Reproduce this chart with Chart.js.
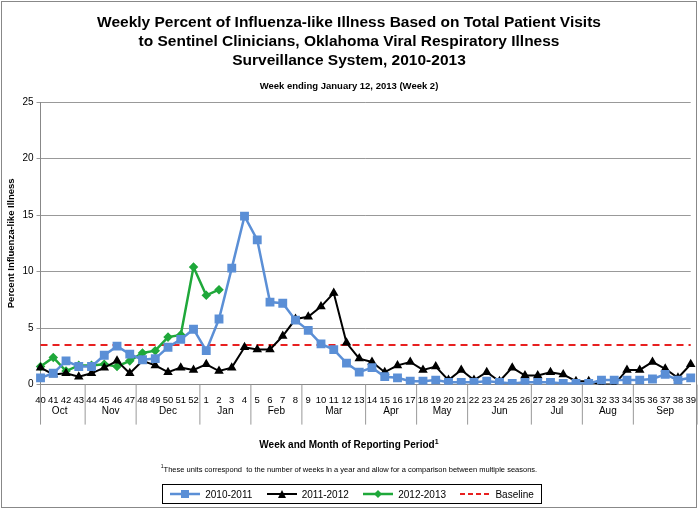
<!DOCTYPE html>
<html><head><meta charset="utf-8">
<script src="https://cdn.jsdelivr.net/npm/chart.js@4.4.0/dist/chart.umd.min.js"></script>
<style>
body{margin:0;background:#fff;font-family:Arial,"Liberation Sans",sans-serif}
#wrap{position:absolute;left:1px;top:1px;width:696px;height:507px;border:1px solid #888;box-sizing:border-box}
#c{position:absolute;left:0;top:0}
.t{position:absolute;width:100%;text-align:center;color:#000}
#legend{position:absolute;left:160px;top:482px;width:378px;height:18px;border:1px solid #000;font-size:10px;display:flex;align-items:center;justify-content:space-around}
#legend span{display:inline-flex;align-items:center;gap:5px}
</style></head><body>
<div id="wrap">
<canvas id="c" width="696" height="507"></canvas>
<div class="t" style="top:10px;font-weight:bold;font-size:15.5px;line-height:19px">Weekly Percent of Influenza-like Illness Based on Total Patient Visits<br>to Sentinel Clinicians, Oklahoma Viral Respiratory Illness<br>Surveillance System, 2010-2013</div>
<div class="t" style="top:78px;font-weight:bold;font-size:9.5px">Week ending January 12, 2013 (Week 2)</div>
<div class="t" style="top:436px;font-weight:bold;font-size:10px">Week and Month of Reporting Period<sup style="font-size:7px">1</sup></div>
<div class="t" style="top:461px;font-size:7.5px"><sup style="font-size:5px">1</sup>These units correspond&nbsp; to the number of weeks in a year and allow for a comparison between multiple seasons.</div>
<div id="legend">
<span><svg width="30" height="10"><line x1="0" y1="5" x2="30" y2="5" stroke="#5B8FD6" stroke-width="2.5"/><rect x="11" y="1" width="8" height="8" fill="#5B8FD6"/></svg>2010-2011</span>
<span><svg width="30" height="10"><line x1="0" y1="5" x2="30" y2="5" stroke="#000" stroke-width="2"/><polygon points="15,1 19,9 11,9" fill="#000"/></svg>2011-2012</span>
<span><svg width="30" height="10"><line x1="0" y1="5" x2="30" y2="5" stroke="#1FA83A" stroke-width="2.5"/><polygon points="15,1 19,5 15,9 11,5" fill="#1FA83A"/></svg>2012-2013</span>
<span><svg width="30" height="10"><line x1="0" y1="5" x2="30" y2="5" stroke="#E82020" stroke-width="2" stroke-dasharray="5,3"/></svg>Baseline</span>
</div>
</div>
<script>
const weeks=[40,41,42,43,44,45,46,47,48,49,50,51,52,1,2,3,4,5,6,7,8,9,10,11,12,13,14,15,16,17,18,19,20,21,22,23,24,25,26,27,28,29,30,31,32,33,34,35,36,37,38,39].map(String);
const s2010=[0.6,1.0,2.1,1.6,1.6,2.6,3.4,2.7,2.2,2.3,3.3,4.0,4.9,3.0,5.8,10.3,14.9,12.8,7.3,7.2,5.7,4.8,3.6,3.1,1.9,1.1,1.5,0.7,0.6,0.3,0.3,0.4,0.2,0.2,0.2,0.3,0.2,0.1,0.2,0.2,0.2,0.1,0.1,0.1,0.4,0.4,0.4,0.4,0.5,0.9,0.4,0.6];
const s2011=[1.5,0.9,1.0,0.7,1.0,1.5,2.1,1.0,2.1,1.7,1.1,1.5,1.3,1.8,1.2,1.5,3.3,3.1,3.1,4.3,5.8,6.0,6.9,8.1,3.7,2.3,2.0,1.1,1.7,2.0,1.3,1.6,0.4,1.3,0.4,1.1,0.3,1.5,0.8,0.8,1.1,0.9,0.3,0.3,0.0,0.0,1.3,1.3,2.0,1.4,0.6,1.8];
const s2012=[1.6,2.4,1.2,1.7,1.7,1.8,1.6,2.1,2.8,3.0,4.2,4.4,10.4,7.9,8.4];
const baseline=weeks.map(()=>3.5);
const months=[["Oct",0,3],["Nov",4,7],["Dec",8,12],["Jan",13,16],["Feb",17,20],["Mar",21,25],["Apr",26,29],["May",30,33],["Jun",34,38],["Jul",39,42],["Aug",43,46],["Sep",47,51]];
const monthPlugin={id:'m',afterDraw(ch){const c=ch.ctx,x=ch.scales.x,a=ch.chartArea;const w=x.getPixelForValue(1)-x.getPixelForValue(0);
c.save();c.strokeStyle='#999';c.lineWidth=1;c.fillStyle='#000';c.font='10px Arial';c.textAlign='center';
const y0=a.bottom,y1=a.bottom+40;
c.beginPath();c.moveTo(a.left,y0);c.lineTo(a.left,y1);c.stroke();
months.forEach(([n,s,e])=>{const l=x.getPixelForValue(s)-w/2,r=x.getPixelForValue(e)+w/2;
c.beginPath();c.moveTo(r,y0);c.lineTo(r,y1);c.stroke();c.fillText(n,(l+r)/2,y0+29);});
c.restore();}};
new Chart(document.getElementById('c'),{type:'line',data:{labels:weeks,datasets:[
{label:'2010-2011',data:s2010,borderColor:'#5B8FD6',backgroundColor:'#5B8FD6',borderWidth:2.5,pointStyle:'rect',pointRadius:4.5,tension:0},
{label:'2011-2012',data:s2011,borderColor:'#000',backgroundColor:'#000',borderWidth:2,pointStyle:'triangle',pointRadius:3.5,tension:0},
{label:'2012-2013',data:s2012,borderColor:'#1FA83A',backgroundColor:'#1FA83A',borderWidth:2.5,pointStyle:'rectRot',pointRadius:3,tension:0},
{label:'Baseline',data:baseline,borderColor:'#E82020',borderDash:[7,5],borderWidth:2,pointRadius:0}]},
options:{animation:false,responsive:false,layout:{padding:{left:2,right:6,top:100,bottom:101}},
plugins:{legend:{display:false},tooltip:{enabled:false}},
scales:{x:{grid:{display:false},border:{color:'#888'},ticks:{autoSkip:false,maxRotation:0,color:'#000',font:{size:9.5,family:'Arial'},padding:2}},
y:{min:0,max:25,ticks:{stepSize:5,padding:3,color:'#000',font:{size:10,family:'Arial'}},grid:{color:'#999',drawTicks:true,tickLength:4},border:{color:'#888'},
title:{display:true,padding:2,text:'Percent Influenza-like Illness',font:{size:9.5,weight:'bold',family:'Arial'},color:'#000'}}}},
plugins:[monthPlugin]});
</script></body></html>
